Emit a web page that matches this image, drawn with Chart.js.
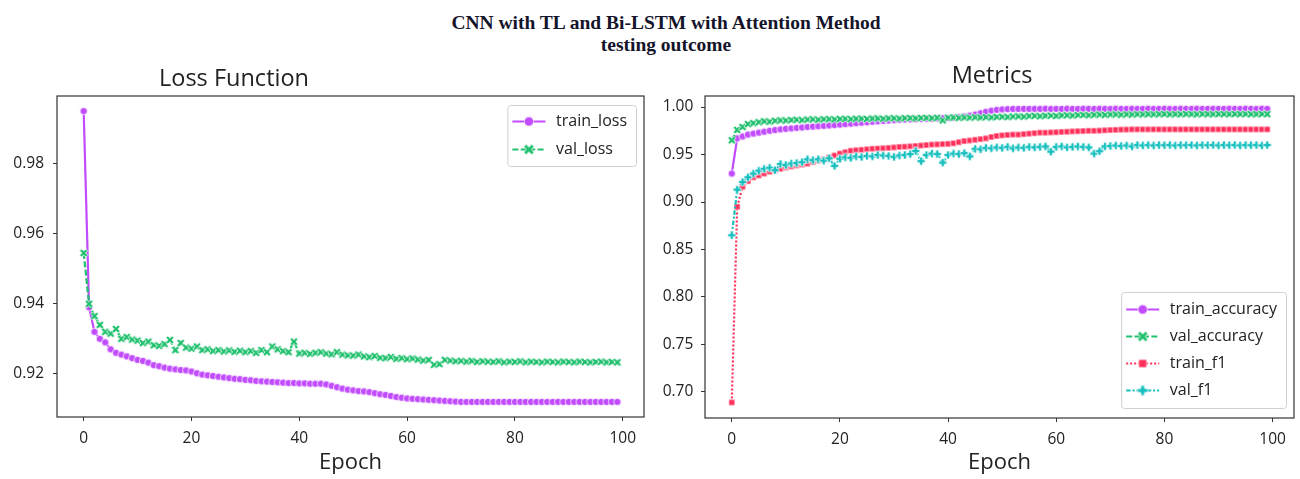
<!DOCTYPE html>
<html><head><meta charset="utf-8">
<script src="https://cdn.jsdelivr.net/npm/chart.js@4"></script>
<style>
html,body{margin:0;padding:0;background:#fff;}
#wrap{position:relative;width:1300px;height:479px;overflow:hidden;background:#fff;}
#title{position:absolute;left:32px;top:12px;width:1268px;text-align:center;font-family:"Liberation Serif","Times New Roman",serif;font-weight:bold;font-size:19.5px;line-height:22px;color:#14142a;}
.c{position:absolute;top:0;width:650px;height:479px;}
</style></head><body>
<div id="wrap">
<div id="title">CNN with TL and Bi-LSTM with Attention Method<br>testing outcome</div>
<div class="c" style="left:0"><canvas id="loss" width="650" height="479"></canvas></div>
<div class="c" style="left:650px"><canvas id="metrics" width="650" height="479"></canvas></div>
</div>
<script>
const epochTicks = [0, 20, 40, 60, 80, 100];
const lossTicks = [0.92, 0.94, 0.96, 0.98];
const metricTicks = [0.70, 0.75, 0.80, 0.85, 0.90, 0.95, 1.00];

const trainLoss = [0.995,0.939,0.932,0.930,0.929,0.927,0.926,0.9255,0.925,0.9245,
 0.924,0.9237,0.9232,0.9225,0.9222,0.9218,0.9215,0.9213,0.9211,0.921,
 0.9207,0.9202,0.9198,0.9196,0.9194,0.9192,0.919,0.9188,0.9186,0.9185,
 0.9183,0.9182,0.918,0.9179,0.9178,0.9177,0.9176,0.9175,0.9174,0.9174,
 0.9173,0.9173,0.9172,0.9172,0.9172,0.917,0.9166,0.9162,0.9158,0.9155,
 0.9153,0.9151,0.915,0.9148,0.9145,0.9142,0.914,0.9137,0.9134,0.9132,
 0.913,0.9129,0.9128,0.9127,0.9126,0.9125,0.9124,0.9123,0.9122,0.9121,
 0.912,0.912,0.912,0.912,0.912,0.912,0.912,0.912,0.912,0.912,
 0.912,0.912,0.912,0.912,0.912,0.912,0.912,0.912,0.912,0.912,
 0.912,0.912,0.912,0.912,0.912,0.912,0.912,0.912,0.912,0.912];

const valLoss = [0.9545,0.940,0.9365,0.934,0.932,0.9315,0.9328,0.930,0.9305,0.9298,
 0.9295,0.9288,0.9292,0.9282,0.928,0.9285,0.9297,0.9268,0.9288,0.9275,
 0.9272,0.9278,0.9268,0.927,0.9265,0.9268,0.9264,0.9267,0.9263,0.9266,
 0.9262,0.9265,0.926,0.9268,0.9262,0.9278,0.927,0.9265,0.9262,0.9292,
 0.9258,0.926,0.9257,0.926,0.9262,0.9258,0.9256,0.9262,0.9255,0.9253,
 0.9252,0.9255,0.925,0.9248,0.9251,0.9246,0.9245,0.9248,0.9243,0.9245,
 0.9242,0.9244,0.9241,0.9238,0.924,0.9226,0.9228,0.924,0.9238,0.9236,
 0.9237,0.9235,0.9237,0.9234,0.9236,0.9235,0.9234,0.9236,0.9233,0.9235,
 0.9234,0.9236,0.9233,0.9235,0.9234,0.9233,0.9235,0.9234,0.9233,0.9235,
 0.9234,0.9233,0.9235,0.9234,0.9233,0.9234,0.9235,0.9233,0.9234,0.9233];

const trainAcc = [0.930,0.967,0.969,0.971,0.972,0.973,0.974,0.975,0.9758,0.9765,
 0.977,0.9775,0.978,0.9785,0.979,0.9794,0.9798,0.9802,0.9806,0.981,
 0.9815,0.982,0.9825,0.983,0.9835,0.984,0.9845,0.985,0.9854,0.9858,
 0.9862,0.9865,0.9868,0.987,0.9872,0.9874,0.9876,0.9878,0.988,0.9882,
 0.9884,0.9888,0.9893,0.990,0.991,0.992,0.9935,0.995,0.9962,0.997,
 0.9975,0.9978,0.998,0.998,0.9981,0.998,0.9981,0.998,0.9982,0.998,
 0.9981,0.998,0.9982,0.9981,0.998,0.9982,0.9981,0.998,0.9982,0.9981,
 0.998,0.9982,0.9981,0.998,0.9982,0.9981,0.998,0.9982,0.9981,0.998,
 0.9982,0.9981,0.998,0.9982,0.9981,0.998,0.9982,0.9981,0.998,0.9982,
 0.9981,0.998,0.9982,0.9981,0.998,0.9982,0.9981,0.998,0.9982,0.9981];

const valAcc = [0.965,0.976,0.979,0.982,0.983,0.984,0.985,0.9845,0.9855,0.986,
 0.9858,0.9863,0.9866,0.9862,0.9868,0.987,0.9866,0.9871,0.9873,0.9869,
 0.9874,0.9876,0.9872,0.9877,0.9878,0.9874,0.9879,0.988,0.9876,0.9881,
 0.9882,0.9878,0.9883,0.9884,0.988,0.9885,0.9886,0.9882,0.9887,0.986,
 0.9888,0.9889,0.9886,0.989,0.9888,0.9892,0.9889,0.9893,0.989,0.9895,
 0.9897,0.9894,0.99,0.9902,0.9898,0.9905,0.9907,0.9903,0.9908,0.991,
 0.9906,0.9912,0.9913,0.991,0.9915,0.9917,0.9913,0.9918,0.992,0.9917,
 0.9921,0.9922,0.9919,0.9923,0.9921,0.9924,0.9922,0.9925,0.9923,0.9924,
 0.9926,0.9923,0.9925,0.9924,0.9926,0.9925,0.9923,0.9926,0.9925,0.9924,
 0.9926,0.9925,0.9924,0.9926,0.9925,0.9926,0.9924,0.9925,0.9926,0.9925];

const trainF1 = [0.689,0.895,0.916,0.922,0.926,0.928,0.930,0.932,0.9335,0.935,
 0.9365,0.9375,0.9385,0.9395,0.9405,0.942,0.9435,0.945,0.947,0.949,
 0.951,0.9525,0.954,0.9545,0.955,0.9555,0.956,0.9563,0.9566,0.957,
 0.9575,0.958,0.9583,0.9586,0.959,0.9595,0.96,0.9605,0.9607,0.961,
 0.9612,0.9618,0.963,0.9642,0.9648,0.9655,0.9662,0.967,0.9685,0.9695,
 0.9702,0.9706,0.971,0.971,0.9715,0.972,0.9725,0.973,0.973,0.9733,
 0.9735,0.9738,0.974,0.9743,0.9745,0.9747,0.975,0.975,0.9752,0.9755,
 0.9758,0.976,0.9762,0.9763,0.9765,0.9765,0.9765,0.9765,0.9765,0.9765,
 0.9765,0.9765,0.9765,0.9765,0.9765,0.9765,0.9765,0.9765,0.9765,0.9765,
 0.9765,0.9765,0.9765,0.9765,0.9765,0.9765,0.9765,0.9765,0.9765,0.9765];

const valF1 = [0.865,0.913,0.921,0.926,0.930,0.933,0.935,0.936,0.9335,0.940,
 0.939,0.9405,0.941,0.942,0.945,0.944,0.945,0.9435,0.946,0.938,
 0.9455,0.947,0.9465,0.948,0.9475,0.9485,0.948,0.9495,0.949,0.9485,
 0.9475,0.949,0.9495,0.9505,0.9537,0.943,0.9495,0.951,0.9505,0.9414,
 0.9495,0.951,0.9505,0.9515,0.948,0.956,0.9555,0.957,0.9565,0.9575,
 0.957,0.958,0.9565,0.9575,0.957,0.958,0.9575,0.958,0.9585,0.953,
 0.958,0.9585,0.9575,0.958,0.9585,0.958,0.9575,0.951,0.9535,0.9585,
 0.959,0.9595,0.959,0.9595,0.9585,0.96,0.9595,0.96,0.9595,0.96,
 0.9598,0.96,0.9595,0.96,0.9598,0.96,0.9595,0.96,0.9598,0.96,
 0.9595,0.96,0.9598,0.96,0.9595,0.96,0.9598,0.96,0.9595,0.96];

const epochs = trainLoss.map((_, i) => i);

const PURPLE = '#c14bfd', GREEN = '#1fc06d', RED = '#ff2f5a', TEAL = '#17bfbf';

function marker(kind, color, size) {
  const S = Math.ceil(size) + 4;
  const c = document.createElement('canvas');
  c.width = S; c.height = S;
  const g = c.getContext('2d');
  g.translate(S / 2, S / 2);
  const h = size / 2;
  g.beginPath();
  if (kind === 'circle') { g.arc(0, 0, h, 0, Math.PI * 2); }
  else if (kind === 'square') { g.rect(-h, -h, size, size); }
  else {
    let a = h * 0.38, e = h;
    if (kind === 'X') { g.rotate(Math.PI / 4); e = h * 1.2; a = h * 0.36; }
    const p = [[-a,-e],[a,-e],[a,-a],[e,-a],[e,a],[a,a],[a,e],[-a,e],[-a,a],[-e,a],[-e,-a],[-a,-a]];
    g.moveTo(p[0][0], p[0][1]);
    for (let i = 1; i < p.length; i++) g.lineTo(p[i][0], p[i][1]);
    g.closePath();
  }
  g.fillStyle = color; g.fill();
  g.lineWidth = 0.7; g.strokeStyle = '#fff'; g.stroke();
  return c;
}

function ds(label, values, color, dash, kind, size, lsize, order) {
  return {
    label, data: values.map((v, i) => ({ x: epochs[i], y: v })),
    borderColor: color, backgroundColor: color, borderWidth: 2.2, borderDash: dash,
    pointStyle: marker(kind, color, size), pointRadius: 3, pointHoverRadius: 3,
    legendMarker: marker(kind, color, lsize), tension: 0, order
  };
}

const framePlugin = {
  id: 'frame',
  afterDatasetsDraw(chart) {
    const { ctx, chartArea: a } = chart;
    ctx.save(); ctx.strokeStyle = '#333'; ctx.lineWidth = 1.2;
    ctx.strokeRect(a.left, a.top, a.right - a.left, a.bottom - a.top);
    ctx.restore();
  }
};

const panelTitle = {
  id: 'panelTitle',
  afterDraw(chart, args, o) {
    const ctx = chart.ctx;
    ctx.save();
    ctx.font = o.size + 'px "Open Sans"';
    ctx.fillStyle = '#222'; ctx.textAlign = 'center'; ctx.textBaseline = 'alphabetic';
    ctx.fillText(o.text, o.x, o.y);
    ctx.restore();
  }
};

const boxLegend = {
  id: 'boxLegend',
  afterDraw(chart, args, o) {
    const ctx = chart.ctx, a = chart.chartArea, items = chart.data.datasets;
    ctx.save();
    ctx.font = o.fontSize + 'px "Open Sans"';
    const tw = Math.max(...items.map(d => ctx.measureText(d.label).width));
    const w = 48.7 + tw + 9, h = items.length * o.rowH + o.padY * 2;
    const x0 = a.right - 8 - w;
    const y0 = o.where === 'top' ? a.top + 9 : a.bottom - 10 - h;
    ctx.beginPath(); ctx.roundRect(x0 + 0.5, y0 + 0.5, w, h, 3);
    ctx.fillStyle = 'rgba(255,255,255,0.85)'; ctx.fill();
    ctx.strokeStyle = '#d0d0d0'; ctx.lineWidth = 1; ctx.stroke();
    items.forEach((d, i) => {
      const y = y0 + o.padY + o.rowH * (i + 0.5);
      ctx.beginPath(); ctx.setLineDash(d.borderDash || []);
      ctx.strokeStyle = d.borderColor; ctx.lineWidth = 2.2;
      ctx.moveTo(x0 + 5, y); ctx.lineTo(x0 + 38, y); ctx.stroke();
      ctx.setLineDash([]);
      const m = d.legendMarker;
      ctx.drawImage(m, x0 + 21.5 - m.width / 2, y - m.height / 2);
      ctx.fillStyle = '#222'; ctx.textBaseline = 'middle'; ctx.textAlign = 'left';
      ctx.fillText(d.label, x0 + 48.7, y);
    });
    ctx.restore();
  }
};

function axes(yTicks, yMin, yMax, yWidth, yPad, xHeight) {
  const tickFont = { family: 'Open Sans', size: 15.5 };
  return {
    x: {
      type: 'linear', min: -4.95, max: 103.95,
      afterBuildTicks: s => { s.ticks = epochTicks.map(v => ({ value: v })); },
      afterFit: s => { s.height = xHeight; },
      grid: { drawOnChartArea: false, drawTicks: true, tickLength: 4, color: '#333', lineWidth: 1 },
      border: { display: false },
      ticks: { font: tickFont, color: '#222', padding: 8, maxRotation: 0, callback: v => String(v) },
      title: { display: true, text: 'Epoch', font: { family: 'Open Sans', size: 22 }, color: '#222', padding: { top: 0, bottom: 2.6 } }
    },
    y: {
      type: 'linear', min: yMin, max: yMax,
      afterBuildTicks: s => { s.ticks = yTicks.map(v => ({ value: v })); },
      afterFit: s => { s.width = yWidth; },
      grid: { drawOnChartArea: false, drawTicks: true, tickLength: 4, color: '#333', lineWidth: 1 },
      border: { display: false },
      ticks: { font: tickFont, color: '#222', padding: yPad, callback: v => v.toFixed(2) }
    }
  };
}

new Chart(document.getElementById('loss'), {
  type: 'line',
  data: { datasets: [
    ds('train_loss', trainLoss, PURPLE, [], 'circle', 7.2, 9.5, 2),
    ds('val_loss', valLoss, GREEN, [6, 2.4], 'X', 7.4, 9.5, 1)
  ] },
  options: {
    responsive: false, animation: false, devicePixelRatio: 1,
    layout: { padding: { top: 96, right: 6, left: 0, bottom: 0 } },
    plugins: {
      legend: { display: false }, tooltip: { enabled: false },
      panelTitle: { text: 'Loss Function', x: 234, y: 86, size: 23.5 },
      boxLegend: { where: 'top', rowH: 28, padY: 2.5, fontSize: 16 }
    },
    scales: axes(lossTicks, 0.9077, 0.9993, 57, 9, 62)
  },
  plugins: [framePlugin, panelTitle, boxLegend]
});

new Chart(document.getElementById('metrics'), {
  type: 'line',
  data: { datasets: [
    ds('train_accuracy', trainAcc, PURPLE, [], 'circle', 7.2, 9.5, 4),
    ds('val_accuracy', valAcc, GREEN, [6, 2.4], 'X', 7.4, 9.5, 3),
    ds('train_f1', trainF1, RED, [2, 2], 'square', 6, 8, 2),
    ds('val_f1', valF1, TEAL, [4.5, 1.9, 2, 1.9], 'P', 8, 10, 1)
  ] },
  options: {
    responsive: false, animation: false, devicePixelRatio: 1,
    layout: { padding: { top: 96, right: 6, left: 0, bottom: 0 } },
    plugins: {
      legend: { display: false }, tooltip: { enabled: false },
      panelTitle: { text: 'Metrics', x: 342, y: 83.3, size: 23.5 },
      boxLegend: { where: 'bottom', rowH: 27, padY: 4, fontSize: 16 }
    },
    scales: axes(metricTicks, 0.6726, 1.0116, 55, 7.7, 61)
  },
  plugins: [framePlugin, panelTitle, boxLegend]
});
</script>
</body></html>
